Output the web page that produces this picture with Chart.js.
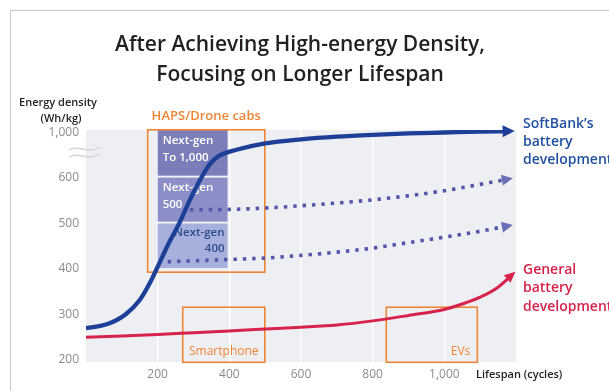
<!DOCTYPE html>
<html>
<head>
<meta charset="utf-8">
<script src="https://cdn.jsdelivr.net/npm/chart.js@4"></script>
<style>
html, body { margin: 0; padding: 0; background: #fff; }
#wrap { position: relative; width: 609px; height: 391px; overflow: hidden; }
#frame { position: absolute; left: 10px; top: 10px; right: -2px; bottom: -2px; border-left: 1px solid #c6c6c6; border-top: 1px solid #c6c6c6; }
canvas { position: absolute; left: 0; top: 0; }
</style>
</head>
<body>
<div id="wrap"><div id="frame"></div><canvas id="chart" width="609" height="391"></canvas></div>
<script>
// Y axis is broken above 600: the value 700 is drawn as "1,000"
const yTicks = [200, 300, 400, 500, 600, 700];
const xTicks = [200, 400, 600, 800, 1000];

// SoftBank's battery development (solid blue)
const blueCycles  = [0, 60, 110, 150, 180, 200, 230, 260, 290, 320, 345, 370, 420, 500, 600, 700, 800, 900, 1000, 1100, 1185];
const blueDensity = [270, 279, 300, 332, 372, 405, 455, 500, 552, 598, 630, 648, 662, 676, 685, 691, 695, 698, 700, 702, 703];

// Next-gen 500 path (dotted)
const gen500Cycles  = [290, 400, 500, 600, 700, 800, 900, 1000, 1100, 1180];
const gen500Density = [530, 531, 534, 539, 545, 552, 561, 572, 586, 598];

// Next-gen 400 path (dotted)
const gen400Cycles  = [228, 300, 400, 500, 600, 700, 800, 900, 1000, 1100, 1180];
const gen400Density = [416, 418, 421, 424, 430, 437, 446, 458, 470, 483, 495];

// General battery development (red)
const redCycles  = [0, 100, 200, 300, 400, 500, 600, 700, 800, 900, 1000, 1050, 1100, 1150, 1190];
const redDensity = [250, 253, 256, 260, 264, 268, 272, 277, 286, 298, 311, 323, 338, 360, 388];

// Next-gen target bands (cycles range, density range)
const nextGenLabels = [['Next-gen', 'To 1,000'], ['Next-gen', '500'], ['Next-gen', '400']];
const nextGenCycles = [200, 395];
const nextGenLow  = [603, 502, 400];
const nextGenHigh = [706, 603, 502];

// Application zones
const zoneLabels = ['HAPS/Drone cabs', 'Smartphone', 'EVs'];
const zoneCyclesFrom = [172, 270, 838];
const zoneCyclesTo   = [499, 499, 1092];
const zoneDensityFrom = [393, 195, 195];
const zoneDensityTo   = [706, 316, 316];

const FONT = "'Open Sans', 'Noto Sans', sans-serif";
const ORANGE = '#ef8535';
const BLUE = '#1d3f97';
const DOT = '#5257aa';
const RED = '#d7234b';

function pts(xs, ys) {
    return xs.map((x, i) => ({ x: x, y: ys[i] }));
}

function arrowHead(ctx, meta, color, len, half) {
    const p = meta.data;
    const a = p[p.length - 2], b = p[p.length - 1];
    const ang = Math.atan2(b.y - a.y, b.x - a.x);
    const dx = Math.cos(ang), dy = Math.sin(ang);
    const tipX = b.x + dx * 4, tipY = b.y + dy * 4;
    const bx = tipX - dx * len, by = tipY - dy * len;
    ctx.fillStyle = color;
    ctx.beginPath();
    ctx.moveTo(tipX, tipY);
    ctx.lineTo(bx - dy * half, by + dx * half);
    ctx.lineTo(bx + dy * half, by - dx * half);
    ctx.closePath();
    ctx.fill();
}

const decor = {
    id: 'decor',
    beforeDraw(chart) {
        const { ctx, chartArea: a } = chart;
        ctx.save();
        ctx.fillStyle = '#eeeff3';
        ctx.fillRect(a.left, a.top, a.right - a.left, a.bottom - a.top);
        ctx.restore();
    },
    beforeDatasetsDraw(chart) {
        const { ctx, scales: { x, y } } = chart;
        ctx.save();
        // next-gen bands
        const bandColors = ['#7b7eb9', '#8b8ec7', '#a7afdc'];
        const x0 = x.getPixelForValue(nextGenCycles[0]);
        const x1 = x.getPixelForValue(nextGenCycles[1]);
        nextGenLow.forEach((lo, i) => {
            const top = Math.max(y.getPixelForValue(nextGenHigh[i]), chart.chartArea.top);
            const bot = y.getPixelForValue(lo);
            ctx.fillStyle = bandColors[i];
            ctx.fillRect(x0, top + (i ? 1 : 0), x1 - x0, bot - top - (i ? 1 : 0) - 1);
        });
        ctx.font = '600 11.5px ' + FONT;
        ctx.textBaseline = 'middle';
        nextGenLabels.forEach((lines, i) => {
            const top = Math.max(y.getPixelForValue(nextGenHigh[i]), chart.chartArea.top);
            if (i < 2) {
                ctx.fillStyle = '#ffffff';
                ctx.textAlign = 'left';
                lines.forEach((t, j) => ctx.fillText(t, x0 + 5, top + 11 + j * 17));
            } else {
                ctx.fillStyle = '#2b4b8c';
                ctx.textAlign = 'right';
                lines.forEach((t, j) => ctx.fillText(t, x1 - 3, top + 10 + j * 16));
            }
        });
        // zones
        ctx.strokeStyle = ORANGE;
        ctx.lineWidth = 1.6;
        zoneLabels.forEach((lab, i) => {
            const l = x.getPixelForValue(zoneCyclesFrom[i]);
            const r = x.getPixelForValue(zoneCyclesTo[i]);
            const t = y.getPixelForValue(zoneDensityTo[i]);
            const b = y.getPixelForValue(zoneDensityFrom[i]);
            ctx.strokeRect(l, t, r - l, b - t);
            ctx.fillStyle = ORANGE;
            if (i === 0) {
                ctx.font = '600 13px ' + FONT;
                ctx.textAlign = 'center';
                ctx.fillText(lab, (l + r) / 2, t - 13);
            } else if (i === 1) {
                ctx.font = '12px ' + FONT;
                ctx.textAlign = 'center';
                ctx.fillText(lab, (l + r) / 2, b - 11);
            } else {
                ctx.font = '12px ' + FONT;
                ctx.textAlign = 'right';
                ctx.fillText(lab, r - 7, b - 11);
            }
        });
        ctx.restore();
    },
    afterDatasetsDraw(chart) {
        const ctx = chart.ctx;
        ctx.save();
        arrowHead(ctx, chart.getDatasetMeta(0), BLUE, 12, 6);
        arrowHead(ctx, chart.getDatasetMeta(1), '#6b6fb6', 11, 5.5);
        arrowHead(ctx, chart.getDatasetMeta(2), '#6b6fb6', 11, 5.5);
        arrowHead(ctx, chart.getDatasetMeta(3), RED, 11, 5);
        ctx.restore();
    },
    afterDraw(chart) {
        const ctx = chart.ctx;
        ctx.save();
        // title
        ctx.fillStyle = '#231f20';
        ctx.textAlign = 'center';
        ctx.textBaseline = 'middle';
        ctx.font = '600 21px ' + FONT;
        ctx.fillText('After Achieving High-energy Density,', 300, 45);
        ctx.fillText('Focusing on Longer Lifespan', 300, 75);
        // axis titles
        ctx.font = '600 11px ' + FONT;
        ctx.fillText('Energy density', 58, 103);
        ctx.fillText('(Wh/kg)', 61, 119);
        ctx.textAlign = 'left';
        ctx.fillText('Lifespan (cycles)', 476, 375);
        // series labels
        ctx.font = '600 14px ' + FONT;
        ctx.fillStyle = '#2150a0';
        ['SoftBank\u2019s', 'battery', 'development'].forEach((t, i) => ctx.fillText(t, 523, 124 + i * 18));
        ctx.fillStyle = RED;
        ['General', 'battery', 'development'].forEach((t, i) => ctx.fillText(t, 523, 270 + i * 18.5));
        // axis break mark
        ctx.strokeStyle = '#d6d6d8';
        ctx.lineWidth = 1.4;
        [149, 156].forEach(yy => {
            ctx.beginPath();
            ctx.moveTo(69, yy + 1);
            ctx.bezierCurveTo(78, yy - 5, 88, yy + 6, 100, yy - 2);
            ctx.stroke();
        });
        ctx.restore();
    }
};

const lineBase = { pointRadius: 0, fill: false, cubicInterpolationMode: 'monotone', borderCapStyle: 'butt' };

new Chart(document.getElementById('chart'), {
    type: 'line',
    data: {
        datasets: [
            Object.assign({ label: "SoftBank's battery development", data: pts(blueCycles, blueDensity), borderColor: BLUE, borderWidth: 4.3 }, lineBase),
            Object.assign({ label: 'Next-gen 500', data: pts(gen500Cycles, gen500Density), borderColor: DOT, borderWidth: 3.6, borderDash: [3.4, 6] }, lineBase),
            Object.assign({ label: 'Next-gen 400', data: pts(gen400Cycles, gen400Density), borderColor: DOT, borderWidth: 3.6, borderDash: [3.4, 6] }, lineBase),
            Object.assign({ label: 'General battery development', data: pts(redCycles, redDensity), borderColor: RED, borderWidth: 3 }, lineBase)
        ]
    },
    options: {
        responsive: false,
        animation: false,
        layout: { padding: { left: 0, right: 93, top: 130, bottom: 0 } },
        plugins: { legend: { display: false }, title: { display: false }, tooltip: { enabled: false } },
        scales: {
            x: {
                type: 'linear', min: 0, max: 1200,
                afterBuildTicks: s => { s.ticks = xTicks.map(v => ({ value: v })); },
                afterFit: s => { s.height = 29; },
                grid: { color: '#ffffff', lineWidth: 1.5, drawTicks: false },
                border: { display: false },
                ticks: { color: '#8b8b8b', font: { family: FONT, size: 12 }, padding: 5, maxRotation: 0,
                    callback: v => v.toLocaleString('en-US') }
            },
            y: {
                type: 'linear', min: 195.6, max: 705.5,
                afterBuildTicks: s => { s.ticks = yTicks.map(v => ({ value: v })); },
                afterFit: s => { s.width = 86; },
                grid: { display: false, drawTicks: false },
                border: { display: false },
                ticks: { color: '#8b8b8b', font: { family: FONT, size: 12 }, padding: 7,
                    callback: v => v === 700 ? '1,000' : v }
            }
        }
    },
    plugins: [decor]
});
</script>
</body>
</html>
